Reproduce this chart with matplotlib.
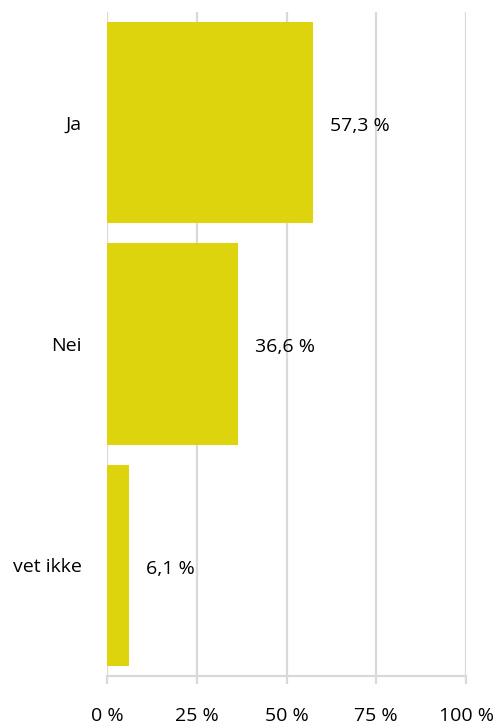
import numpy as np
import matplotlib.pyplot as plt

plt.rcParams['font.family'] = ['Open Sans', 'DejaVu Sans']

# ---- data ----
categories = ["Ja", "Nei", "vet ikke"]
values = [57.3, 36.6, 6.1]
xticks = [0, 25, 50, 75, 100]
xtick_labels = ["0 %", "25 %", "50 %", "75 %", "100 %"]

BAR_COLOR = "#DDD40E"
GRID_COLOR = "#D9D9D9"
FS = 14


def main():
    fig = plt.figure(figsize=(4.94, 7.25), dpi=100)
    ax = fig.add_axes([107 / 494, 1 - 676 / 725, 359 / 494, 664 / 725])

    y = np.arange(len(categories))
    ax.barh(y, values, height=0.91, color=BAR_COLOR, zorder=3)
    for yi, v in zip(y, values):
        ax.text(v + 4.7, yi + 0.015, f"{v:.1f} %".replace(".", ","),
                va="center", ha="left", fontsize=FS, color="black")

    ax.set_xlim(0, 100)
    ax.set_ylim(len(categories) - 0.5, -0.5)
    ax.set_yticks(y)
    ax.set_yticklabels(categories, fontsize=FS)
    ax.set_xticks(xticks)
    ax.set_xticklabels(xtick_labels, fontsize=FS)

    ax.grid(axis="x", color=GRID_COLOR, linewidth=1.6, zorder=0)
    for s in ["top", "right", "left"]:
        ax.spines[s].set_visible(False)
    ax.spines["bottom"].set_color(GRID_COLOR)
    ax.spines["bottom"].set_linewidth(1.6)
    ax.tick_params(axis="x", length=6, width=1.6, color=GRID_COLOR, pad=16)
    ax.tick_params(axis="y", length=0, pad=18)

    fig.savefig("out.png", dpi=100)
    plt.close(fig)


if __name__ == "__main__":
    main()
